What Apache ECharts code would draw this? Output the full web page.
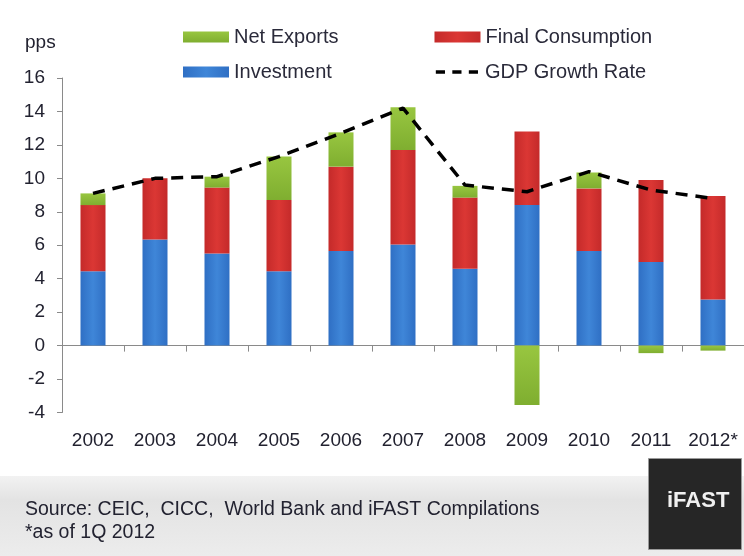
<!DOCTYPE html>
<html>
<head>
<meta charset="utf-8">
<script src="https://cdn.jsdelivr.net/npm/echarts@6/dist/echarts.min.js"></script>
<style>
html,body{margin:0;padding:0;background:#fff;}
#c{width:744px;height:556px;}
</style>
</head>
<body>
<div id="c"></div>
<script>
var years = ['2002','2003','2004','2005','2006','2007','2008','2009','2010','2011','2012*'];
var investment = [4.45, 6.35, 5.5, 4.45, 5.65, 6.05, 4.6, 8.4, 5.65, 5.0, 2.75];
var consumption = [3.95, 3.65, 3.95, 4.25, 5.05, 5.65, 4.25, 4.4, 3.75, 4.9, 6.2];
var netExports = [0.7, 0, 0.65, 2.6, 2.05, 2.55, 0.7, -3.55, 0.95, -0.45, -0.3];
var gdpGrowth = [9.1, 10.0, 10.1, 11.3, 12.7, 14.2, 9.6, 9.2, 10.4, 9.3, 8.8];
var yTicks = {min: -4, max: 16, step: 2};

var FONT = '"Liberation Sans", Arial, sans-serif';
var chart = echarts.init(document.getElementById('c'));

function hGrad(edge, mid) {
  return new echarts.graphic.LinearGradient(0, 0, 1, 0, [
    {offset: 0, color: edge}, {offset: 0.5, color: mid}, {offset: 1, color: edge}
  ]);
}
var blue = hGrad('#2f6fc4', '#3f86d8');
var red = hGrad('#c42a2a', '#db3734');
var green = new echarts.graphic.LinearGradient(0, 0, 0, 1, [
  {offset: 0, color: '#98c640'}, {offset: 1, color: '#7fae30'}
]);

chart.setOption({
  backgroundColor: '#ffffff',
  animation: false,
  textStyle: {fontFamily: FONT},
  grid: {left: 62, right: -5, top: 78, bottom: 143.5, containLabel: false},
  legend: [
    {
      left: 178, top: 22, itemWidth: 46, itemHeight: 11, itemGap: 96,
      textStyle: {fontSize: 20, color: '#2a2a3a', fontFamily: FONT},
      data: [
        {name: 'Net Exports', icon: 'rect'},
        {name: 'Final Consumption', icon: 'rect'}
      ]
    },
    {
      left: 178, top: 57, itemWidth: 46, itemHeight: 11, itemGap: 104,
      textStyle: {fontSize: 20, color: '#2a2a3a', fontFamily: FONT},
      data: [
        {name: 'Investment', icon: 'rect'},
        {name: 'GDP Growth Rate', icon: 'path://M0,4h10v4h-10z M18,4h10v4h-10z M36,4h10v4h-10z M0,0h0.01v0h-0.01z M46,12h0.01v0h-0.01z',
         itemStyle: {color: '#000'}}
      ]
    }
  ],
  xAxis: [
    {
      type: 'category', data: years, boundaryGap: true,
      axisLine: {onZero: true, lineStyle: {color: '#8a8a8a', width: 1}},
      axisTick: {show: true, length: 6, lineStyle: {color: '#8a8a8a'}},
      axisLabel: {show: false},
      splitLine: {show: false}
    },
    {
      type: 'category', data: years, position: 'bottom', boundaryGap: true,
      axisLine: {show: false, onZero: false},
      axisTick: {show: false},
      axisLabel: {show: true, interval: 0, hideOverlap: false, margin: 19, fontSize: 19, color: '#222230', fontFamily: FONT},
      splitLine: {show: false}
    }
  ],
  yAxis: {
    type: 'value', min: yTicks.min, max: yTicks.max, interval: yTicks.step,
    name: 'pps', nameLocation: 'end', nameGap: 26,
    nameTextStyle: {fontSize: 19, color: '#222230', align: 'left', padding: [0, 0, 0, -37], fontFamily: FONT},
    axisLine: {show: true, lineStyle: {color: '#8a8a8a'}},
    axisTick: {show: true, length: 5, lineStyle: {color: '#8a8a8a'}},
    axisLabel: {margin: 17, fontSize: 19, color: '#222230', fontFamily: FONT},
    splitLine: {show: false}
  },
  series: [
    {
      name: 'Investment', type: 'bar', stack: 'g', barWidth: 25,
      itemStyle: {color: blue}, data: investment
    },
    {
      name: 'Final Consumption', type: 'bar', stack: 'g', barWidth: 25,
      itemStyle: {color: red}, data: consumption
    },
    {
      name: 'Net Exports', type: 'bar', stack: 'g', barWidth: 25,
      itemStyle: {color: green},
      data: netExports.map(function (v) { return v === 0 ? '-' : v; })
    },
    {
      name: 'GDP Growth Rate', type: 'line', symbol: 'none', z: 5,
      lineStyle: {color: '#000', width: 3.5, type: [12, 8]},
      itemStyle: {color: '#000'},
      data: gdpGrowth
    }
  ],
  graphic: [
    {
      type: 'rect', left: 0, top: 476, z: -10, silent: true,
      shape: {width: 744, height: 80},
      style: {fill: new echarts.graphic.LinearGradient(0, 0, 0, 1, [
        {offset: 0, color: '#f2f2f2'}, {offset: 0.3, color: '#e3e3e3'}, {offset: 1, color: '#ececec'}
      ])}
    },
    {
      type: 'rect', left: 648, top: 458, z: 10, silent: true,
      shape: {width: 93, height: 91},
      style: {fill: '#262626', stroke: '#9a9a9a', lineWidth: 1}
    },
    {
      type: 'text', left: 667, top: 490, z: 11, silent: true,
      style: {text: 'iFAST', fill: '#f0f0f0', font: 'bold 22px ' + FONT}
    },
    {
      type: 'text', left: 25, top: 500, z: 11, silent: true,
      style: {text: 'Source: CEIC,  CICC,  World Bank and iFAST Compilations', fill: '#222230', font: '19.5px ' + FONT}
    },
    {
      type: 'text', left: 25, top: 523, z: 11, silent: true,
      style: {text: '*as of 1Q 2012', fill: '#222230', font: '19.5px ' + FONT}
    }
  ]
});
</script>
</body>
</html>
